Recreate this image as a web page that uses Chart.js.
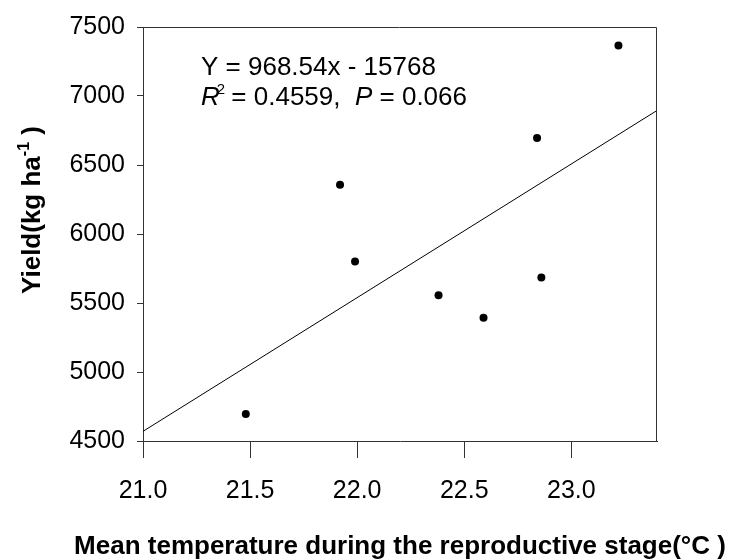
<!DOCTYPE html>
<html>
<head>
<meta charset="utf-8">
<script src="https://cdn.jsdelivr.net/npm/chart.js@4/dist/chart.umd.min.js"></script>
<style>
  html, body { margin: 0; padding: 0; background: #fff; }
  #wrap { width: 735px; height: 560px; }
</style>
</head>
<body>
<div id="wrap"><canvas id="yieldChart" width="735" height="560"></canvas></div>
<script>
// Mean temperature (x) and yield (y)
const tempValues = [21.48, 21.92, 21.99, 22.38, 22.59, 22.84, 22.86, 23.22];
const yieldValues = [4695, 6357, 5800, 5557, 5394, 6695, 5684, 7366];

// Regression line end points
const fitX = [21.0, 23.4];
const fitY = [4570, 6895];

const equationText = 'Y = 968.54x - 15768';
const xTitle = 'Mean temperature during the reproductive stage(\u00B0C )';

const FONT = '"Liberation Sans", Arial, sans-serif';
const AXIS = '#333';

// Frame, axis titles and the regression text
const extrasPlugin = {
    id: 'extras',
    afterDraw(chart) {
        const ctx = chart.ctx;
        const a = chart.chartArea;
        ctx.save();

        // top and right sides of the box
        ctx.strokeStyle = AXIS;
        ctx.lineWidth = 1;
        ctx.beginPath();
        ctx.moveTo(Math.round(a.left) - 0.5, Math.round(a.top) + 0.5);
        ctx.lineTo(Math.round(a.right) - 0.5, Math.round(a.top) + 0.5);
        ctx.lineTo(Math.round(a.right) - 0.5, Math.round(a.bottom) + 0.5);
        ctx.stroke();

        ctx.fillStyle = '#000';
        ctx.textBaseline = 'alphabetic';

        // x axis title
        ctx.font = 'bold 26px ' + FONT;
        ctx.textAlign = 'center';
        ctx.fillText(xTitle, (a.left + a.right) / 2, 554);

        // y axis title, rotated
        ctx.save();
        ctx.translate(40, 210);
        ctx.rotate(-Math.PI / 2);
        const main = 'Yield(kg ha';
        ctx.font = 'bold 26px ' + FONT;
        const wMain = ctx.measureText(main).width;
        ctx.font = 'bold 16px ' + FONT;
        const wSup = ctx.measureText('-1').width;
        ctx.font = 'bold 26px ' + FONT;
        const wEnd = ctx.measureText(' )').width;
        let x = -(wMain + wSup + wEnd) / 2;
        ctx.textAlign = 'left';
        ctx.fillText(main, x, 0);
        x += wMain;
        ctx.font = 'bold 16px ' + FONT;
        ctx.fillText('-1', x, -11);
        x += wSup;
        ctx.font = 'bold 26px ' + FONT;
        ctx.fillText(' )', x, 0);
        ctx.restore();

        // regression equation
        ctx.textAlign = 'left';
        ctx.font = '26px ' + FONT;
        ctx.fillText(equationText, 201, 75);

        let tx = 201;
        const ty = 105;
        ctx.font = 'italic 26px ' + FONT;
        ctx.fillText('R', tx, ty);
        tx += ctx.measureText('R').width - 3;
        ctx.font = '15px ' + FONT;
        ctx.fillText('2', tx, ty - 11);
        tx += ctx.measureText('2').width - 1;
        ctx.font = '26px ' + FONT;
        ctx.fillText(' = 0.4559,  ', tx, ty);
        tx += ctx.measureText(' = 0.4559,  ').width;
        ctx.font = 'italic 26px ' + FONT;
        ctx.fillText('P', tx, ty);
        tx += ctx.measureText('P').width;
        ctx.font = '26px ' + FONT;
        ctx.fillText(' = 0.066', tx, ty);

        ctx.restore();
    }
};

function createChart() {
    const ctx = document.getElementById('yieldChart').getContext('2d');

    new Chart(ctx, {
        type: 'scatter',
        data: {
            datasets: [
                {
                    label: 'Yield',
                    data: tempValues.map((t, i) => ({ x: t, y: yieldValues[i] })),
                    backgroundColor: '#000',
                    borderColor: '#000',
                    pointRadius: 4,
                    pointBorderWidth: 0
                },
                {
                    label: 'Fit',
                    type: 'line',
                    data: fitX.map((t, i) => ({ x: t, y: fitY[i] })),
                    borderColor: '#000',
                    borderWidth: 1,
                    pointRadius: 0,
                    fill: false,
                    tension: 0
                }
            ]
        },
        options: {
            responsive: false,
            animation: false,
            events: [],
            layout: {
                padding: { top: 25, right: 78, left: 0, bottom: 0 }
            },
            plugins: {
                legend: { display: false },
                tooltip: { enabled: false }
            },
            scales: {
                x: {
                    type: 'linear',
                    min: 21.0,
                    max: 23.4,
                    afterFit: (scale) => { scale.height = 119; },
                    border: { display: true, color: AXIS, width: 1 },
                    grid: {
                        drawOnChartArea: false,
                        drawTicks: true,
                        tickLength: 17,
                        color: AXIS
                    },
                    ticks: {
                        stepSize: 0.5,
                        includeBounds: false,
                        maxRotation: 0,
                        autoSkip: false,
                        padding: 18,
                        color: '#000',
                        font: { family: FONT, size: 25 },
                        callback: (v) => Number(v).toFixed(1)
                    }
                },
                y: {
                    min: 4500,
                    max: 7500,
                    afterFit: (scale) => { scale.width = 143; },
                    border: { display: true, color: AXIS, width: 1 },
                    grid: {
                        drawOnChartArea: false,
                        drawTicks: true,
                        tickLength: 6,
                        color: AXIS
                    },
                    ticks: {
                        stepSize: 500,
                        padding: 12,
                        color: '#000',
                        font: { family: FONT, size: 25 },
                        callback: (v) => String(v)
                    }
                }
            }
        },
        plugins: [extrasPlugin]
    });
}

document.addEventListener('DOMContentLoaded', createChart);
</script>
</body>
</html>
